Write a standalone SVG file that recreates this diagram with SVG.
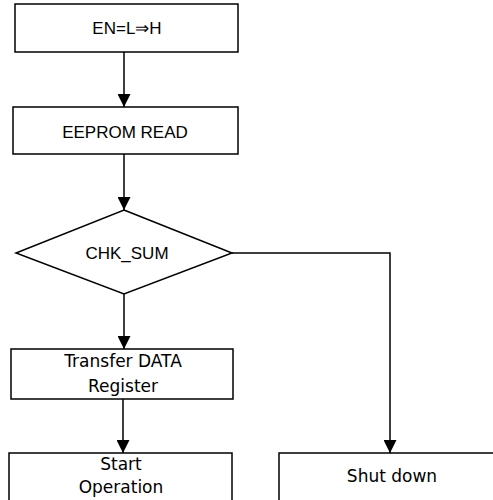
<svg xmlns="http://www.w3.org/2000/svg" width="493" height="500" viewBox="0 0 493 500">
<style>
.box{fill:#fff;stroke:#000;stroke-width:1.5}
.t1{font-family:"Liberation Sans",Arial,sans-serif;font-size:17px;fill:#000;text-anchor:middle}
.t2{font-family:"DejaVu Sans",sans-serif;font-size:17px;fill:#000;text-anchor:middle}
.ln{fill:none;stroke:#000;stroke-width:1.5}
</style>
<defs>
<marker id="arr" markerWidth="14" markerHeight="13" refX="13" refY="6.5" orient="auto" markerUnits="userSpaceOnUse">
<path d="M0,0 L13,6.5 L0,13 Z" fill="#000"/>
</marker>
</defs>
<rect width="493" height="500" fill="#fff"/>
<g id="connectors">
<line class="ln" x1="124" y1="52" x2="124" y2="107" marker-end="url(#arr)"/>
<line class="ln" x1="124" y1="154" x2="124" y2="210" marker-end="url(#arr)"/>
<line class="ln" x1="124" y1="294" x2="124" y2="349" marker-end="url(#arr)"/>
<line class="ln" x1="123" y1="399" x2="123" y2="453" marker-end="url(#arr)"/>
<polyline class="ln" points="232,253 390,253 390,453" marker-end="url(#arr)"/>
</g>
<g id="n1">
<rect class="box" x="15" y="4" width="223" height="48"/>
<text class="t1" x="127" y="34">EN=L⇒H</text>
</g>
<g id="n2">
<rect class="box" x="13" y="107" width="225" height="47"/>
<text class="t1" x="125" y="138">EEPROM READ</text>
</g>
<g id="n3">
<polygon class="box" points="124,210 232,253 124,294 16,253"/>
<text class="t1" x="127" y="259">CHK_SUM</text>
</g>
<g id="n4">
<rect class="box" x="11" y="349" width="222" height="50"/>
<text class="t2" x="123" y="367">Transfer DATA</text>
<text class="t2" x="123" y="392">Register</text>
</g>
<g id="n5">
<rect class="box" x="9" y="453" width="223" height="60"/>
<text class="t2" x="121" y="470">Start</text>
<text class="t2" x="121" y="493">Operation</text>
</g>
<g id="n6">
<rect class="box" x="279" y="453" width="230" height="60"/>
<text class="t2" x="392" y="482">Shut down</text>
</g>
</svg>
